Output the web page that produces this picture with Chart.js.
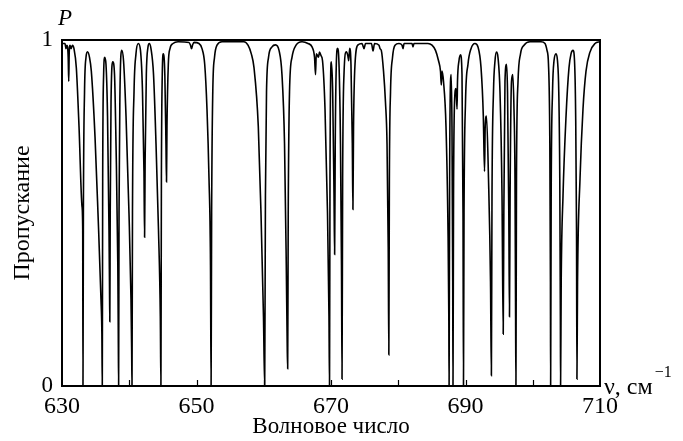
<!DOCTYPE html>
<html>
<head>
<meta charset="utf-8">
<script src="https://cdn.jsdelivr.net/npm/chart.js@4.4.0/dist/chart.umd.min.js"></script>
<style>
  html, body { margin: 0; padding: 0; background: #fff; }
  canvas { display: block; }
</style>
</head>
<body>
<canvas id="espectro" width="683" height="441"></canvas>
<script>
// Спектр пропускания, точки (волновое число, см-1)
var waveNumber = [
    630.00, 630.45, 630.59, 630.74, 630.92, 631.00, 631.07, 631.19, 631.34, 631.56, 631.78,
    632.13, 632.53, 632.97, 633.08, 633.12, 633.18, 633.35, 633.57, 633.79,
    634.09, 634.36, 634.91, 635.35, 635.80, 635.93, 635.99, 636.05, 636.19, 636.35,
    636.54, 636.77, 636.99, 637.06, 637.11, 637.17, 637.29, 637.55,
    637.81, 638.03, 638.30, 638.37, 638.42, 638.48, 638.62, 638.89,
    639.15, 639.52, 639.96, 640.26, 640.36, 640.41, 640.48, 640.71, 641.00, 641.35,
    641.67, 641.97, 642.19, 642.28, 642.36, 642.54, 642.79, 642.98,
    643.23, 643.61, 643.98, 644.35, 644.62, 644.71, 644.78, 644.91, 645.06,
    645.29, 645.46, 645.54, 645.61, 645.81, 646.06, 646.51, 647.25,
    648.88, 649.11, 649.26, 649.41, 649.63, 650.37,
    650.82, 651.22, 651.56, 651.86, 652.08, 652.17, 652.25, 652.42, 652.68, 653.05, 653.79,
    657.06, 657.66, 658.15, 658.55, 659.19, 659.59, 659.96, 660.14, 660.25, 660.41, 660.71, 661.23, 661.75,
    662.27, 662.71, 663.09, 663.35, 663.50, 663.56, 663.64, 663.83, 664.20, 664.80, 665.69,
    666.58, 667.18, 667.55, 667.70, 667.81, 667.99, 668.14, 668.29, 668.51,
    668.74, 669.11, 669.48, 669.70, 669.78, 669.85, 670.05,
    670.25, 670.45, 670.54, 670.63, 670.79, 670.97,
    671.19, 671.41, 671.56, 671.64, 671.73, 671.93, 672.28,
    672.50, 672.63, 672.78, 672.97, 673.17, 673.26, 673.35, 673.57, 674.02,
    674.61, 674.91, 675.13, 676.02, 676.25, 676.47, 677.14, 677.29,
    677.48, 677.81, 678.10, 678.33, 678.51, 678.60, 678.68, 678.85, 679.15, 679.52,
    680.11, 680.56, 680.71, 680.86, 682.05, 682.19, 682.34, 684.42,
    685.02, 685.54, 685.99, 686.28, 686.40, 686.51, 686.73,
    687.10, 687.40, 687.52, 687.56, 687.64, 687.77, 687.87, 687.99, 688.10, 688.14,
    688.22, 688.37, 688.59, 688.74, 688.81, 689.03, 689.26,
    689.48, 689.63, 689.70, 689.78, 690.00, 690.37, 690.82, 691.41,
    691.86, 692.31, 692.65, 692.83, 692.93, 693.12, 693.42, 693.72, 693.85,
    693.94, 694.16, 694.39, 694.61, 694.83, 695.13, 695.43, 695.61,
    695.70, 695.87, 696.10, 696.25, 696.44, 696.54, 696.63, 696.84, 697.03,
    697.21, 697.36, 697.45, 697.50, 697.58, 697.81, 698.18, 698.70, 699.59,
    701.23, 701.82, 702.12, 702.34, 702.54, 702.63, 702.66, 702.74, 702.94, 703.16, 703.46,
    703.68, 703.87, 704.02, 704.11, 704.14, 704.23, 704.50, 704.95, 705.39, 705.69, 705.99,
    706.21, 706.37, 706.51, 706.57, 706.66, 707.03, 707.47, 707.92, 708.51, 709.26, 710.00
];
var transmission = [
    0.99, 0.99, 0.975, 0.985, 0.95, 0.88, 0.96, 0.985, 0.975, 0.985, 0.975,
    0.92, 0.75, 0.52, 0.45, 0.00, 0.50, 0.85, 0.95, 0.966,
    0.95, 0.91, 0.72, 0.50, 0.25, 0.15, 0.00, 0.60, 0.90, 0.95,
    0.93, 0.78, 0.45, 0.30, 0.186, 0.50, 0.82, 0.937,
    0.90, 0.70, 0.35, 0.15, 0.00, 0.50, 0.85, 0.97,
    0.94, 0.78, 0.50, 0.25, 0.10, 0.00, 0.50, 0.85, 0.96, 0.99,
    0.97, 0.85, 0.62, 0.43, 0.65, 0.90, 0.98, 0.99,
    0.975, 0.90, 0.70, 0.45, 0.20, 0.00, 0.60, 0.90, 0.96,
    0.90, 0.70, 0.59, 0.75, 0.93, 0.975, 0.99, 0.995,
    0.993, 0.985, 0.975, 0.985, 0.993, 0.99,
    0.975, 0.93, 0.80, 0.60, 0.35, 0.00, 0.50, 0.85, 0.95, 0.985, 0.995,
    0.995, 0.985, 0.96, 0.92, 0.75, 0.50, 0.20, 0.00, 0.55, 0.85, 0.95, 0.98, 0.986,
    0.97, 0.90, 0.70, 0.35, 0.10, 0.05, 0.50, 0.85, 0.95, 0.985, 0.995,
    0.99, 0.98, 0.95, 0.90, 0.96, 0.955, 0.95, 0.965, 0.955,
    0.94, 0.80, 0.50, 0.20, 0.00, 0.60, 0.937,
    0.85, 0.55, 0.38, 0.70, 0.93, 0.976,
    0.93, 0.70, 0.35, 0.02, 0.60, 0.90, 0.966,
    0.955, 0.94, 0.976, 0.93, 0.70, 0.51, 0.75, 0.93, 0.986,
    0.99, 0.975, 0.99, 0.99, 0.968, 0.99, 0.985, 0.975,
    0.97, 0.91, 0.82, 0.70, 0.40, 0.09, 0.60, 0.85, 0.95, 0.985,
    0.99, 0.985, 0.975, 0.99, 0.99, 0.98, 0.99, 0.99,
    0.985, 0.97, 0.94, 0.91, 0.87, 0.91, 0.88,
    0.75, 0.45, 0.20, 0.00, 0.60, 0.88, 0.90, 0.75, 0.30, 0.00,
    0.55, 0.82, 0.86, 0.80, 0.88, 0.94, 0.957,
    0.90, 0.50, 0.00, 0.50, 0.82, 0.93, 0.975, 0.99,
    0.98, 0.92, 0.78, 0.62, 0.75, 0.78, 0.60, 0.30, 0.03,
    0.55, 0.85, 0.94, 0.965, 0.95, 0.85, 0.55, 0.15,
    0.50, 0.88, 0.93, 0.85, 0.50, 0.20, 0.55, 0.88, 0.90,
    0.80, 0.60, 0.20, 0.00, 0.60, 0.88, 0.96, 0.985, 0.995,
    0.995, 0.99, 0.97, 0.93, 0.70, 0.30, 0.00, 0.55, 0.85, 0.94, 0.96,
    0.94, 0.85, 0.60, 0.20, 0.00, 0.30, 0.55, 0.78, 0.92, 0.96, 0.97,
    0.94, 0.80, 0.45, 0.02, 0.30, 0.60, 0.80, 0.91, 0.965, 0.99, 0.995
];
var xTicks = [630, 650, 670, 690, 710];
var yTicks = [0, 1];
var innerTicks = [640, 650, 660, 670, 680, 690, 700];

var serif = '"Liberation Serif", "Times New Roman", serif';

var puntos = waveNumber.map(function (v, i) {
    return { x: v, y: transmission[i] };
});

// рамка, внутренние засечки и подписи P и ν, см-1
var marco = {
    id: 'marco',
    afterDraw: function (chart) {
        var ctx = chart.ctx, a = chart.chartArea, sx = chart.scales.x;
        ctx.save();
        ctx.strokeStyle = '#000';
        ctx.lineWidth = 2;
        ctx.strokeRect(a.left, a.top, a.right - a.left, a.bottom - a.top);
        ctx.lineWidth = 1.2;
        innerTicks.forEach(function (v) {
            var px = Math.round(sx.getPixelForValue(v)) + 0.5;
            ctx.beginPath();
            ctx.moveTo(px, a.bottom);
            ctx.lineTo(px, a.bottom - 6);
            ctx.stroke();
        });
        ctx.fillStyle = '#000';
        ctx.textBaseline = 'alphabetic';
        ctx.textAlign = 'center';
        ctx.font = 'italic 23px ' + serif;
        ctx.fillText('P', a.left + 3, 25);
        ctx.textAlign = 'left';
        ctx.font = '24px ' + serif;
        var txt = 'ν, см';
        ctx.fillText(txt, a.right + 4, a.bottom + 8);
        var w = ctx.measureText(txt).width;
        ctx.font = '16px ' + serif;
        ctx.fillText('−1', a.right + 4 + w + 2, a.bottom - 9);
        ctx.restore();
    }
};

new Chart(document.getElementById('espectro'), {
    type: 'line',
    data: {
        datasets: [{
            data: puntos,
            borderColor: '#000',
            borderWidth: 1.6,
            pointRadius: 0,
            fill: false,
            cubicInterpolationMode: 'monotone'
        }]
    },
    options: {
        responsive: false,
        animation: false,
        devicePixelRatio: 1,
        layout: { padding: { left: 0, right: 83, top: 40, bottom: 0 } },
        plugins: {
            legend: { display: false },
            tooltip: { enabled: false }
        },
        scales: {
            x: {
                type: 'linear',
                min: 630,
                max: 710,
                afterBuildTicks: function (axis) {
                    axis.ticks = xTicks.map(function (v) { return { value: v }; });
                },
                afterFit: function (axis) { axis.height = 55; },
                grid: { display: false, drawTicks: false },
                border: { display: false },
                ticks: { color: '#000', padding: 6, maxRotation: 0, font: { family: serif, size: 24 } },
                title: {
                    display: true,
                    text: 'Волновое число',
                    color: '#000',
                    padding: { top: 0, bottom: 0 },
                    font: { family: serif, size: 23 }
                }
            },
            y: {
                min: 0,
                max: 1,
                afterBuildTicks: function (axis) {
                    axis.ticks = yTicks.map(function (v) { return { value: v }; });
                },
                afterFit: function (axis) { axis.width = 62; },
                grid: { display: false, drawTicks: false },
                border: { display: false },
                ticks: { color: '#000', padding: 9, font: { family: serif, size: 23 } },
                title: {
                    display: true,
                    text: 'Пропускание',
                    color: '#000',
                    padding: { top: 8, bottom: 0 },
                    font: { family: serif, size: 24 }
                }
            }
        }
    },
    plugins: [marco]
});
</script>
</body>
</html>
